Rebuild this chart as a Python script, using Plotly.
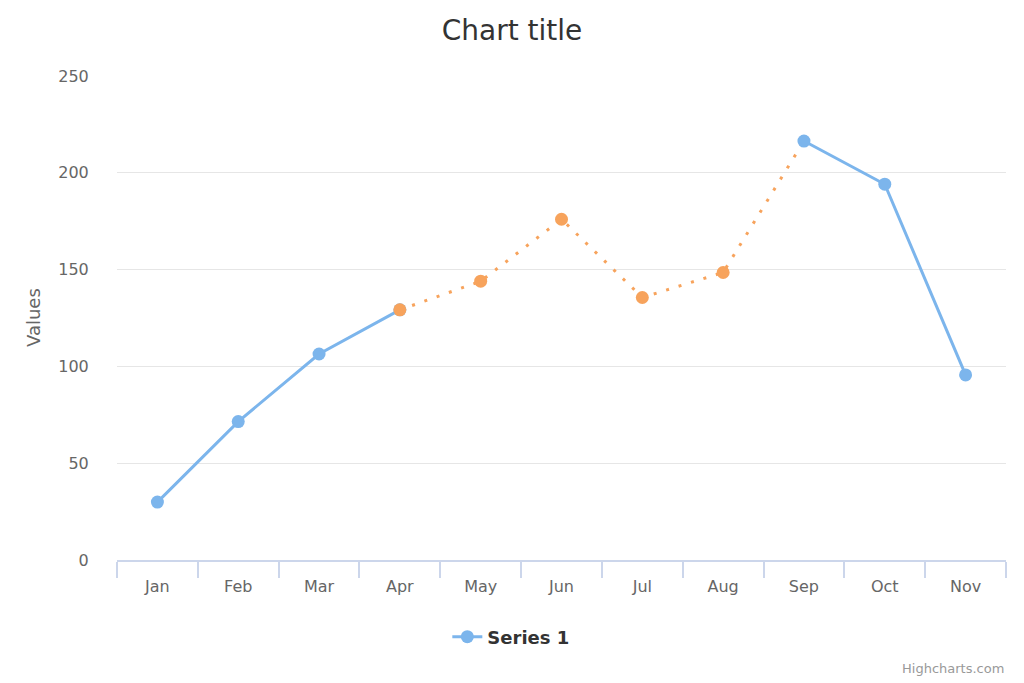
import plotly.graph_objects as go

## data
months = ['Jan', 'Feb', 'Mar', 'Apr', 'May', 'Jun', 'Jul', 'Aug', 'Sep', 'Oct', 'Nov']
values = [29.9, 71.5, 106.4, 129.2, 144.0, 176.0, 135.6, 148.5, 216.4, 194.1, 95.6]
## months in the dotted (orange) zone
zone_start = 'Apr'
zone_end = 'Sep'

blue = '#7cb5ec'
orange = '#f7a35c'

i0 = months.index(zone_start)
i1 = months.index(zone_end)

## split the series into the solid part and the dotted zone
solid_y = [v if (i <= i0 or i >= i1) else None for i, v in enumerate(values)]
zone_line_y = [v if i0 <= i <= i1 else None for i, v in enumerate(values)]
zone_mark_y = [v if i0 <= i < i1 else None for i, v in enumerate(values)]

fig = go.Figure()

fig.add_trace(go.Scatter(x=months, y=zone_line_y, mode='lines',
                         line=dict(color=orange, width=3, dash='3px,10px'),
                         showlegend=False, hoverinfo='skip'))
fig.add_trace(go.Scatter(x=months, y=solid_y, mode='lines+markers', name='Series 1',
                         line=dict(color=blue, width=3),
                         marker=dict(color=blue, size=13),
                         connectgaps=False))
fig.add_trace(go.Scatter(x=months, y=zone_mark_y, mode='markers',
                         marker=dict(color=orange, size=13),
                         showlegend=False))

## page body has an 8px margin, so the figure is shrunk by that much
W, H = 1016, 675
fig.update_layout(
    width=W, height=H,
    margin=dict(l=109, r=18, t=68, b=123),
    paper_bgcolor='white', plot_bgcolor='white',
    font=dict(family='DejaVu Sans', color='#666666', size=16),
    title=dict(text='Chart title', x=(512 - 8) / W, xanchor='center', y=1 - 22 / H, yanchor='middle',
               font=dict(size=28, color='#333333')),
    showlegend=True,
    legend=dict(orientation='h', x=0.443, xanchor='center', y=-0.159, yanchor='middle',
                font=dict(size=18, color='#333333', weight='bold')),
    xaxis=dict(type='category', range=[-0.5, len(months) - 0.5],
               tickson='boundaries', ticks='outside', ticklen=16, tickcolor='#ccd6eb', tickwidth=1.5,
               ticklabelstandoff=11,
               showline=True, linecolor='#ccd6eb', linewidth=1.5,
               showgrid=False, zeroline=False, tickfont=dict(size=16, color='#666666')),
    yaxis=dict(range=[0, 250], dtick=50, showgrid=True, gridcolor='#e6e6e6', gridwidth=1,
               zeroline=False, showline=False, ticks='outside', ticklen=24,
               tickcolor='rgba(0,0,0,0)', tickfont=dict(size=16, color='#666666')),
    annotations=[
        dict(text='Values', xref='paper', yref='paper', x=-(117 - 33) / 889, y=0.5,
             xanchor='center', yanchor='middle', textangle=-90, showarrow=False,
             font=dict(size=18, color='#666666')),
        dict(text='Highcharts.com', xref='paper', yref='paper', x=1, y=-(668 - 560) / 484,
             xanchor='right', yanchor='middle', showarrow=False,
             font=dict(size=13, color='#999999')),
    ],
)

fig.write_html('out.html')
